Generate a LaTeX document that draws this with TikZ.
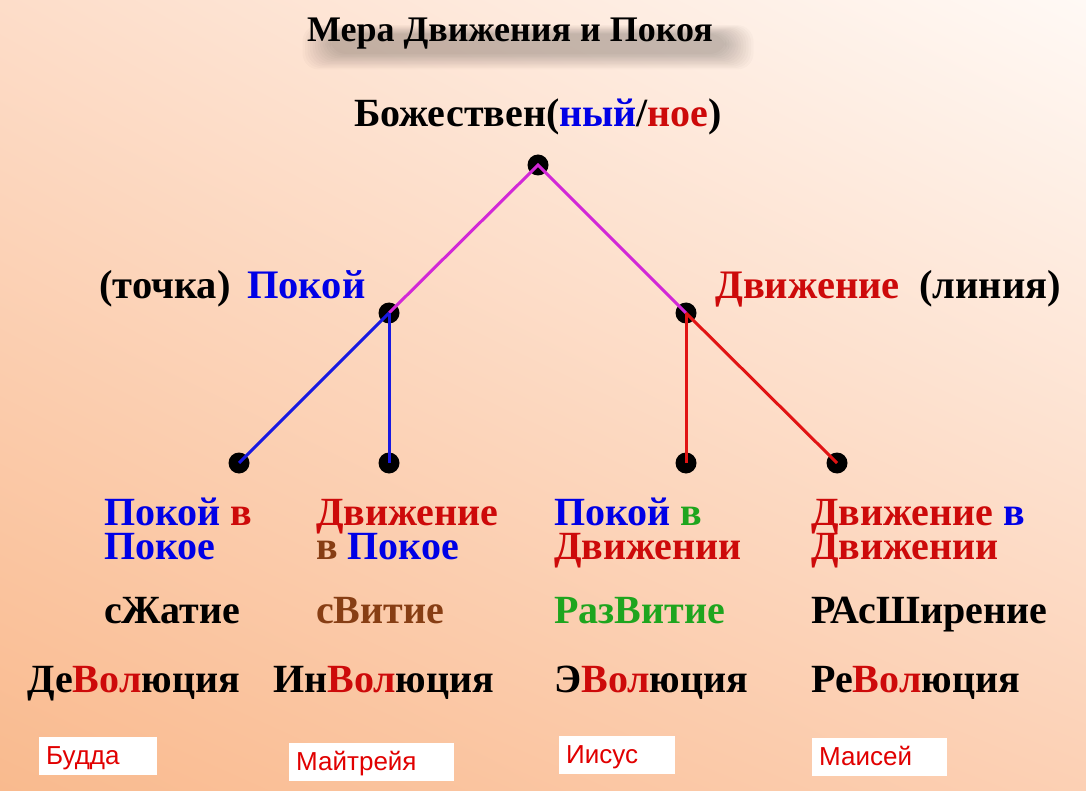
\documentclass[tikz,border=0pt]{standalone}
\usepackage{fontspec}
\usetikzlibrary{shadings}
\setmainfont{Liberation Serif}
\newfontfamily\boxfont{Liberation Sans}
\definecolor{bgBL}{RGB}{249,186,142}
\definecolor{bgTL}{RGB}{253,221,201}
\definecolor{bgTR}{RGB}{255,249,245}
\definecolor{bgBR}{RGB}{252,208,180}
\definecolor{tblue}{RGB}{0,0,230}
\definecolor{tred}{RGB}{205,10,10}
\definecolor{tgreen}{RGB}{30,165,30}
\definecolor{tbrown}{RGB}{135,62,20}
\definecolor{lmag}{RGB}{210,40,215}
\definecolor{lblue}{RGB}{25,25,225}
\definecolor{lred}{RGB}{225,20,20}
\definecolor{bred}{RGB}{225,0,0}
\begin{document}
\begin{tikzpicture}[x=1pt,y=-1pt,
  lbl/.style={inner sep=0pt,anchor=base west,font=\bfseries\fontsize{40.5}{40}\selectfont},
  big/.style={inner sep=0pt,anchor=base west,font=\bfseries\fontsize{40}{40}\selectfont},
  firstline/.style={text depth=0pt},
  dotnode/.style={circle,fill=black,inner sep=0pt,minimum size=21pt},
  edge/.style={line width=3pt},
  namebox/.style={fill=white,anchor=north west,inner xsep=7pt,inner ysep=7pt,
     text height=20.5pt,text depth=3.5pt,align=left,
     font=\boxfont\fontsize{26}{26}\selectfont,text=bred}]
% background
\shade[lower left=bgBL,upper left=bgTL,upper right=bgTR,lower right=bgBR] (0,0) rectangle (1086,791);
\useasboundingbox (0,0) rectangle (1086,791);
% title shadow (soft)
\foreach \i in {0,...,11}{
  \fill[black,opacity=0.02,rounded corners=16pt] (330-\i*2.5,34-\i*0.8) rectangle (726+\i*2.5,54+\i*1.4);
}
\node[inner sep=0pt,anchor=base] (title) at (510,42) {\bfseries\fontsize{36}{36}\selectfont Мера Движения и Покоя};
\node[inner sep=0pt,anchor=base] (top) at (538,127) {\bfseries\fontsize{40}{40}\selectfont Божествен(\textcolor{tblue}{ный}/\textcolor{tred}{ное})};
% level labels
\node[lbl] (tochka) at (99,299) {(точка)};
\node[lbl,text=tblue] (pokoy) at (247,299) {Покой};
\node[lbl,text=tred] (dvizh) at (715,299) {Движение};
\node[lbl] (liniya) at (919,299) {(линия)};
% dots
\node[dotnode] (t) at (538,165) {};
\node[dotnode] (l) at (389,313) {};
\node[dotnode] (r) at (686,313) {};
\node[dotnode] (b1) at (239,463) {};
\node[dotnode] (b2) at (389,463) {};
\node[dotnode] (b3) at (686,463) {};
\node[dotnode] (b4) at (837,463) {};
% edges
\draw[edge,lmag] (l.center) -- (t.center) -- (r.center);
\draw[edge,lblue] (l.center) -- (b1.center);
\draw[edge,lblue] (l.center) -- (b2.center);
\draw[edge,lred] (r.center) -- (b3.center);
\draw[edge,lred] (r.center) -- (b4.center);
% group 1
\node[big,firstline] (g1a) at (104,525) {\textcolor{tblue}{Покой} \textcolor{tred}{в}};
\node[big,text=tblue] (g1b) at (104,559) {Покое};
\node[big] (g1c) at (104,623) {сЖатие};
\node[big,anchor=base east] (g1d) at (240,692) {Де\textcolor{tred}{Вол}юция};
% group 2
\node[big,firstline,text=tred] (g2a) at (316,525) {Движение};
\node[big] (g2b) at (316,559) {\textcolor{tbrown}{в} \textcolor{tblue}{Покое}};
\node[big,text=tbrown] (g2c) at (316,623) {сВитие};
\node[big] (g2d) at (273,692) {Ин\textcolor{tred}{Вол}юция};
% group 3
\node[big,firstline] (g3a) at (554,525) {\textcolor{tblue}{Покой} \textcolor{tgreen}{в}};
\node[big,text=tred] (g3b) at (554,559) {Движении};
\node[big,text=tgreen] (g3c) at (554,623) {РазВитие};
\node[big] (g3d) at (554,692) {Э\textcolor{tred}{Вол}юция};
% group 4
\node[big,firstline] (g4a) at (811,525) {\textcolor{tred}{Движение} \textcolor{tblue}{в}};
\node[big,text=tred] (g4b) at (811,559) {Движении};
\node[big] (g4c) at (811,623) {РАсШирение};
\node[big] (g4d) at (811,692) {Ре\textcolor{tred}{Вол}юция};
% name boxes
\node[namebox,text width=104pt] (budda) at (39,737) {Будда};
\node[namebox,text width=151pt] (maitr) at (289,743) {Майтрейя};
\node[namebox,text width=102pt] (iisus) at (559,736) {Иисус};
\node[namebox,text width=121pt] (maisey) at (812,738) {Маисей};
\end{tikzpicture}
\end{document}
